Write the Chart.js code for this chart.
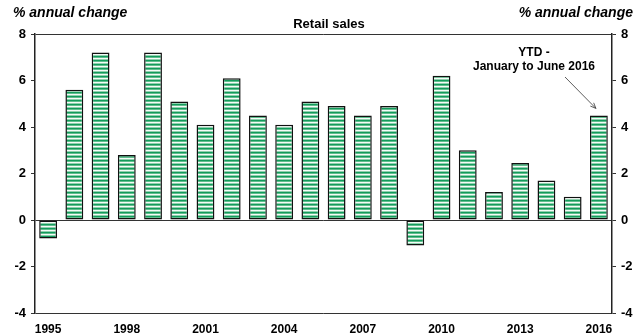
<!DOCTYPE html>
<html>
<head>
<meta charset="utf-8">
<script src="https://cdn.jsdelivr.net/npm/chart.js@4"></script>
<style>
html,body{margin:0;padding:0;background:#fff;}
#wrap{position:relative;width:644px;height:335px;}
</style>
</head>
<body>
<div id="wrap"><canvas id="c" width="644" height="335"></canvas></div>
<script>
const years = ['1995','1996','1997','1998','1999','2000','2001','2002','2003','2004','2005','2006','2007','2008','2009','2010','2011','2012','2013','2014','2015','2016'];
const retailSales = [-0.8, 5.6, 7.2, 2.8, 7.2, 5.1, 4.1, 6.1, 4.5, 4.1, 5.1, 4.9, 4.5, 4.9, -1.1, 6.2, 3.0, 1.2, 2.45, 1.7, 1.0, 4.5];
const shownYearLabels = ['1995','1998','2001','2004','2007','2010','2013','2016'];
const yTicks = [-4, -2, 0, 2, 4, 6, 8];
const titleText = 'Retail sales';
const axisUnitText = '% annual change';
const noteLines = ['YTD -', 'January to June 2016'];

// striped pattern
const pc = document.createElement('canvas');
pc.width = 4; pc.height = 4;
const px = pc.getContext('2d');
const rows = ['#139a5c', '#5fbf8d', '#f4fbf7', '#8fd1ae'];
rows.forEach((col, i) => { px.fillStyle = col; px.fillRect(0, i, 4, 1); });
const ctx = document.getElementById('c').getContext('2d');
const stripe = ctx.createPattern(pc, 'repeat');

const FONT = '"Liberation Sans", Arial, sans-serif';

const textPlugin = {
  id: 'texts',
  afterDraw(chart) {
    const c = chart.ctx;
    c.save();
    c.fillStyle = '#000';
    c.font = 'italic bold 14px ' + FONT;
    c.textBaseline = 'middle';
    c.textAlign = 'left';
    c.fillText(axisUnitText, 13, 13);
    c.textAlign = 'right';
    c.fillText(axisUnitText, 633, 13);
    c.font = 'bold 13px ' + FONT;
    c.textAlign = 'center';
    c.fillText(titleText, 329, 24);
    // annotation
    const xs = chart.scales.x, ys = chart.scales.y;
    const last = years.length - 1;
    const bx = xs.getPixelForValue(last);
    const by = ys.getPixelForValue(retailSales[last]);
    c.font = 'bold 12px ' + FONT;
    c.fillText(noteLines[0], 534, 53);
    c.fillText(noteLines[1], 534, 67);
    // arrow
    const x0 = 565, y0 = 77, x1 = bx - 3, y1 = by - 7;
    c.strokeStyle = '#333';
    c.lineWidth = 0.8;
    c.beginPath(); c.moveTo(x0, y0); c.lineTo(x1, y1); c.stroke();
    const ang = Math.atan2(y1 - y0, x1 - x0);
    c.beginPath();
    c.moveTo(x1 - 6 * Math.cos(ang - 0.4), y1 - 6 * Math.sin(ang - 0.4));
    c.lineTo(x1, y1);
    c.lineTo(x1 - 6 * Math.cos(ang + 0.4), y1 - 6 * Math.sin(ang + 0.4));
    c.stroke();
    c.restore();
  }
};

const gridColor = (ctx) => {
  const v = ctx.tick && ctx.tick.value;
  return (v === 0 || v === 8 || v === -4) ? '#333' : 'rgba(0,0,0,0)';
};

new Chart(ctx, {
  type: 'bar',
  data: {
    labels: years,
    datasets: [{
      data: retailSales,
      backgroundColor: stripe,
      borderColor: '#111',
      borderWidth: 1.5,
      borderSkipped: false,
      barPercentage: 0.68,
      categoryPercentage: 1.0
    }]
  },
  options: {
    responsive: false,
    animation: false,
    layout: { padding: { top: 34, left: 0, right: 0, bottom: 0 } },
    plugins: { legend: { display: false }, title: { display: false }, tooltip: { enabled: false } },
    scales: {
      x: {
        grid: { display: false },
        border: { display: false },
        ticks: {
          autoSkip: false, maxRotation: 0, minRotation: 0,
          color: '#000',
          font: { family: FONT, size: 12, weight: 'bold' },
          padding: 1,
          callback: function (v, i) { const l = years[i]; return shownYearLabels.includes(l) ? l : ''; }
        },
        afterFit(s) { s.height = 22; }
      },
      y: {
        position: 'left',
        min: -4, max: 8,
        afterBuildTicks(s) { s.ticks = yTicks.map(v => ({ value: v })); },
        grid: { color: gridColor, tickColor: '#333', tickLength: 4, lineWidth: 1 },
        border: { display: true, color: '#222', width: 1.5 },
        ticks: { color: '#000', font: { family: FONT, size: 13, weight: 'bold' }, padding: 5 },
        afterFit(s) { s.width = 35; }
      },
      y2: {
        position: 'right',
        min: -4, max: 8,
        afterBuildTicks(s) { s.ticks = yTicks.map(v => ({ value: v })); },
        grid: { drawOnChartArea: false, tickColor: '#333', tickLength: 4 },
        border: { display: true, color: '#222', width: 1.5 },
        ticks: { color: '#000', font: { family: FONT, size: 13, weight: 'bold' }, padding: 5 },
        afterFit(s) { s.width = 32; }
      }
    }
  },
  plugins: [textPlugin]
});
</script>
</body>
</html>
